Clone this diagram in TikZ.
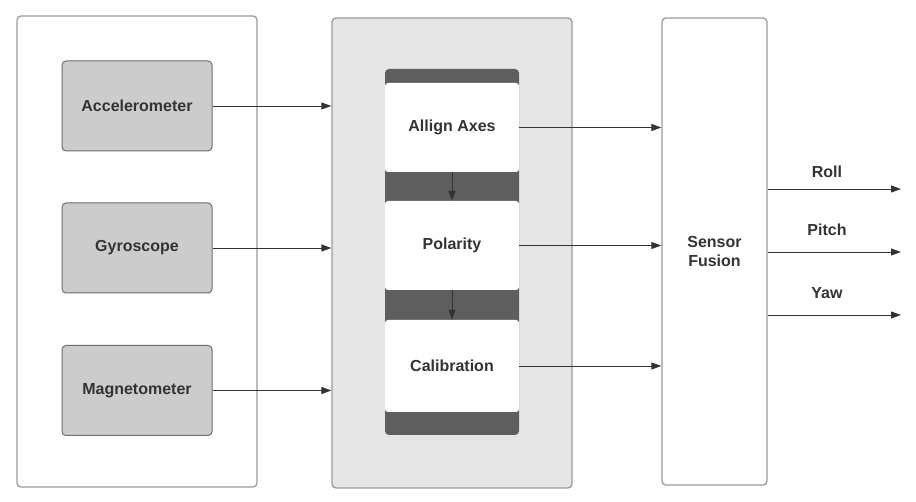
\documentclass[tikz,border=0pt]{standalone}
\usepackage{fontspec}
\setmainfont{Liberation Sans}
\usetikzlibrary{arrows.meta}
\definecolor{txt}{HTML}{333333}
\definecolor{outline}{HTML}{9A9A9A}
\definecolor{sens}{HTML}{CCCCCC}
\definecolor{sensb}{HTML}{6E6E6E}
\definecolor{midfill}{HTML}{E5E5E5}
\definecolor{dark}{HTML}{5E5E5E}
\tikzset{
  container/.style={draw=outline, line width=1.3pt, rounded corners=4pt, inner sep=0pt},
  sensbox/.style={draw=sensb, fill=sens, line width=1pt, rounded corners=4pt, minimum width=150pt, minimum height=90pt, font=\fontsize{16}{19}\selectfont\bfseries, text=txt},
  procbox/.style={fill=white, draw=none, rounded corners=3pt, minimum width=134pt, minimum height=89pt, font=\fontsize{16}{19}\selectfont\bfseries, text=txt},
  lbl/.style={font=\fontsize{16}{19}\selectfont\bfseries, text=txt},
  conn/.style={draw=txt, line width=0.9pt, -{Triangle[length=10pt,width=7pt]}},
}
\begin{document}
\begin{tikzpicture}[x=1pt,y=-1pt]
\useasboundingbox (0,0) rectangle (916,502);
% containers
\node[container, fill=white, minimum width=240pt, minimum height=471pt] (left) at (137,251.5) {};
\node[container, fill=midfill, minimum width=240pt, minimum height=470pt] (mid) at (452,253) {};
\node[container, fill=white, minimum width=105pt, minimum height=467pt, align=center, font=\fontsize{16}{19}\selectfont\bfseries, text=txt] (fusion) at (714.5,251.5) {Sensor\\Fusion};
% sensors
\node[sensbox] (acc) at (137,106) {Accelerometer};
\node[sensbox] (gyro) at (137,248) {Gyroscope};
\node[sensbox] (mag) at (137,390.5) {Magnetometer};
% processing frame
\node[fill=dark, rounded corners=4pt, minimum width=134pt, minimum height=366pt, inner sep=0pt] (frame) at (452,252) {};
\node[procbox] (allign) at (452,127.5) {Allign Axes};
\node[procbox] (polar) at (452,245.5) {Polarity};
\node[procbox, minimum height=92pt] (calib) at (452,366) {Calibration};
% sensor arrows
\draw[conn] (acc.east) -- (acc.east -| mid.west);
\draw[conn] (gyro.east) -- (gyro.east -| mid.west);
\draw[conn] (mag.east) -- (mag.east -| mid.west);
% internal arrows
\draw[conn] (allign.south) -- (polar.north);
\draw[conn] (polar.south) -- (calib.north);
% to fusion
\draw[conn] (allign.east) -- (allign.east -| fusion.west);
\draw[conn] (polar.east) -- (polar.east -| fusion.west);
\draw[conn] (calib.east) -- (calib.east -| fusion.west);
% outputs
\coordinate (rollend) at (901,189);
\coordinate (pitchend) at (901,252);
\coordinate (yawend) at (901,315);
\draw[conn] (rollend -| fusion.east) -- (rollend);
\draw[conn] (pitchend -| fusion.east) -- (pitchend);
\draw[conn] (yawend -| fusion.east) -- (yawend);
\node[lbl] (roll) at (827,172) {Roll};
\node[lbl] (pitch) at (827,229.5) {Pitch};
\node[lbl] (yaw) at (827,293) {Yaw};
\end{tikzpicture}
\end{document}
